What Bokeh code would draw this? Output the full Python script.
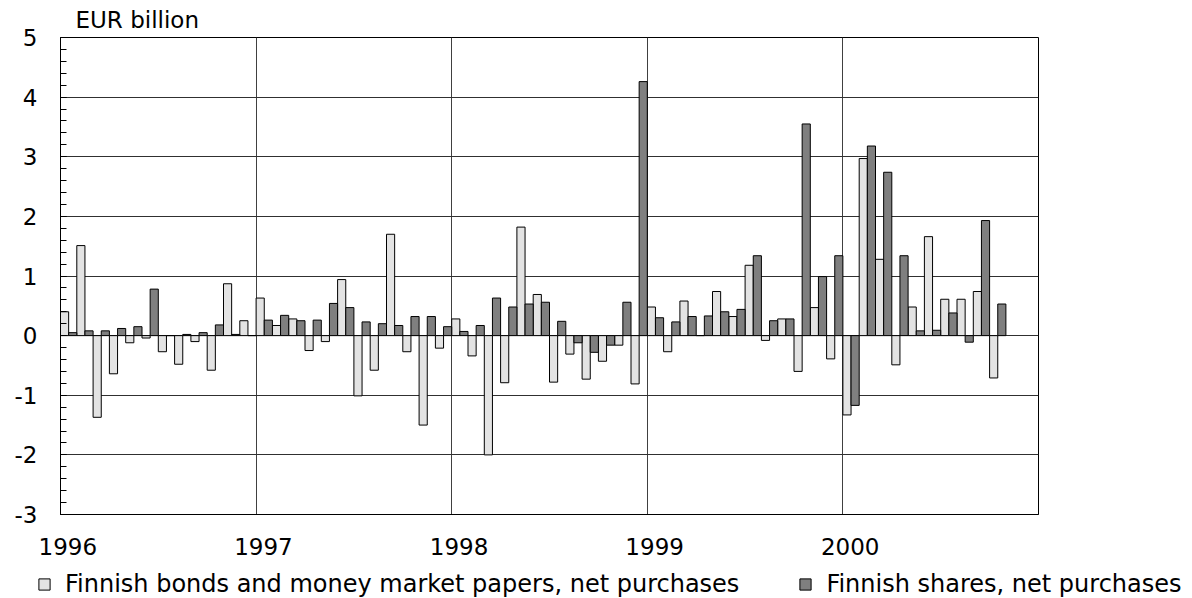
from bokeh.plotting import figure
from bokeh.layouts import column
from bokeh.models import (ColumnDataSource, Legend, LegendItem, FixedTicker,
                          Range1d)
from bokeh.transform import dodge
from bokeh.embed import file_html
from bokeh.resources import INLINE

# ---- data (EUR billion, monthly) ----
year_ticks = [0, 12, 24, 36, 48]
year_label_pos = [0.45, 12.45, 24.45, 36.45, 48.45]
year_labels = ["1996", "1997", "1998", "1999", "2000"]
y_ticks = [-3, -2, -1, 0, 1, 2, 3, 4, 5]
y_labels = ["-3", "-2", "-1", "0", "1", "2", "3", "4", "5"]
series_names = ["Finnish bonds and money market papers, net purchases",
                "Finnish shares, net purchases"]

bonds_1996 = [0.40, 1.51, -1.37, -0.64, -0.12, -0.04, -0.27, -0.48, -0.10, -0.58, 0.87, 0.25]
bonds_1997 = [0.63, 0.17, 0.28, -0.25, -0.10, 0.94, -1.01, -0.58, 1.70, -0.27, -1.50, -0.21]
bonds_1998 = [0.28, -0.34, -2.00, -0.79, 1.82, 0.69, -0.78, -0.31, -0.73, -0.43, -0.16, -0.81]
bonds_1999 = [0.48, -0.27, 0.58, 0.00, 0.74, 0.32, 1.18, -0.08, 0.28, -0.60, 0.47, -0.39]
bonds_2000 = [-1.33, 2.97, 1.28, -0.49, 0.48, 1.66, 0.61, 0.61, 0.74, -0.71]

shares_1996 = [0.05, 0.08, 0.08, 0.12, 0.15, 0.78, 0.00, 0.02, 0.05, 0.18, 0.02, 0.00]
shares_1997 = [0.26, 0.34, 0.25, 0.26, 0.54, 0.47, 0.23, 0.20, 0.17, 0.32, 0.32, 0.15]
shares_1998 = [0.07, 0.17, 0.63, 0.48, 0.53, 0.56, 0.24, -0.12, -0.28, -0.16, 0.56, 4.26]
shares_1999 = [0.30, 0.23, 0.32, 0.33, 0.40, 0.44, 1.34, 0.25, 0.28, 3.55, 0.99, 1.34]
shares_2000 = [-1.17, 3.18, 2.74, 1.34, 0.08, 0.09, 0.38, -0.11, 1.93, 0.53]

bonds = bonds_1996 + bonds_1997 + bonds_1998 + bonds_1999 + bonds_2000
shares = shares_1996 + shares_1997 + shares_1998 + shares_1999 + shares_2000
month_index = list(range(len(bonds)))

src = ColumnDataSource(dict(m=month_index, bonds=bonds, shares=shares))

FONT = "DejaVu Sans"
FS = "23px"
LIGHT = "#e3e3e3"
DARK = "#7f7f7f"

p = figure(width=1192, height=564, x_range=Range1d(0, 60), y_range=Range1d(-3, 5),
           output_backend="svg", toolbar_location=None,
           min_border_left=60, min_border_right=154, min_border_top=35,
           min_border_bottom=50)
p.frame_align = False

light = p.vbar(x=dodge("m", 0.25), top="bonds", bottom=0, width=0.5, source=src,
               fill_color=LIGHT, line_color="black", line_width=1)
dark = p.vbar(x=dodge("m", 0.75), top="shares", bottom=0, width=0.5, source=src,
              fill_color=DARK, line_color="black", line_width=1)

# title (unit)
p.title.text = "EUR billion"
p.title.text_font = FONT
p.title.text_font_size = FS
p.title.text_font_style = "normal"
p.title.text_color = "black"
p.title.align = "left"
p.title.offset = 15
p.title.standoff = 9

# axes
p.yaxis.ticker = FixedTicker(ticks=y_ticks,
                             minor_ticks=[round(-3 + 0.2 * i, 1) for i in range(41)])
p.yaxis.major_label_overrides = {t: l for t, l in zip(y_ticks, y_labels)}
p.yaxis.major_tick_in = 6
p.yaxis.major_tick_out = 0
p.yaxis.minor_tick_in = 6
p.yaxis.minor_tick_out = 0
p.yaxis.major_label_standoff = 23
p.yaxis.major_label_text_font = FONT
p.yaxis.major_label_text_font_size = FS
p.yaxis.major_label_text_color = "black"
p.yaxis.axis_line_color = "black"

p.xaxis.ticker = FixedTicker(ticks=year_label_pos)
p.xaxis.major_label_overrides = {t: l for t, l in zip(year_label_pos, year_labels)}
p.xaxis.major_tick_in = 0
p.xaxis.major_tick_out = 0
p.xaxis.minor_tick_in = 0
p.xaxis.minor_tick_out = 0
p.xaxis.major_label_standoff = 23
p.xaxis.major_label_text_font = FONT
p.xaxis.major_label_text_font_size = FS
p.xaxis.major_label_text_color = "black"
p.xaxis.axis_line_color = "black"

p.xgrid.ticker = FixedTicker(ticks=year_ticks)
p.ygrid.ticker = FixedTicker(ticks=y_ticks)
p.xgrid.grid_line_color = "#404040"
p.ygrid.grid_line_color = "#303030"
p.xgrid.grid_line_width = 1
p.ygrid.grid_line_width = 1

p.outline_line_color = "black"
p.outline_line_width = 1
p.background_fill_color = "white"
p.border_fill_color = "white"

# ---- legend strip ----
lf = figure(width=1192, height=34, x_range=Range1d(0, 1), y_range=Range1d(0, 1),
            output_backend="svg", toolbar_location=None,
            x_axis_location=None, y_axis_location=None,
            min_border_left=0, min_border_right=0, min_border_top=0,
            min_border_bottom=0)
lf.frame_align = False
lf.grid.visible = False
lf.outline_line_color = None
lf.border_fill_color = "white"
lf.background_fill_color = "white"
# legend swatches: one undrawable (NaN) bar each, so only the legend shows them
nan = float("nan")
swatch = ColumnDataSource(dict(x=[nan], top=[nan], bottom=[nan]))
l1 = lf.vbar(x="x", top="top", bottom="bottom", width=0.1, source=swatch,
             fill_color=LIGHT, line_color="black", line_width=1)
l2 = lf.vbar(x="x", top="top", bottom="bottom", width=0.1, source=swatch,
             fill_color=DARK, line_color="black", line_width=1)

legend = Legend(items=[LegendItem(label=series_names[0], renderers=[l1]),
                       LegendItem(label=series_names[1], renderers=[l2])],
                orientation="horizontal", location=(37, 0))
legend.label_text_font = FONT
legend.label_text_font_size = "24px"
legend.label_text_color = "black"
legend.glyph_width = 14
legend.glyph_height = 14
legend.label_standoff = 14
legend.spacing = 59
legend.padding = 0
legend.margin = 0
legend.border_line_color = None
legend.background_fill_alpha = 0
lf.add_layout(legend, "center")

layout = column(p, lf, spacing=0)
open("out.html", "w").write(file_html(layout, INLINE))
